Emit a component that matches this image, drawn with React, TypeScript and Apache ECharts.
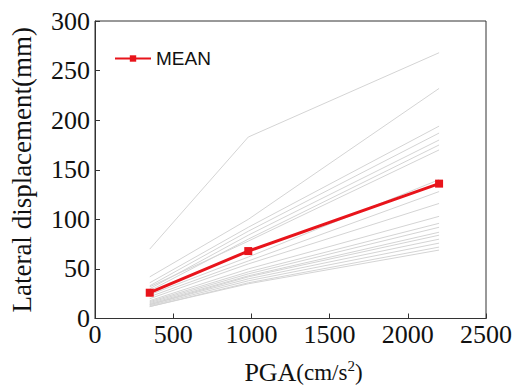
import React, { useEffect, useRef } from "react";
import * as echarts from "echarts";

const pga = [350, 980, 2200];
const meanValues = [26, 68, 136];
const records: number[][] = [
  [70, 183, 268],
  [42, 100, 232],
  [36, 92, 194],
  [33, 88, 187],
  [30, 84, 180],
  [28, 80, 175],
  [32, 78, 170],
  [24, 62, 140],
  [22, 58, 128],
  [20, 55, 116],
  [18, 50, 103],
  [17, 47, 96],
  [16, 45, 92],
  [15, 43, 87],
  [14, 42, 84],
  [14, 40, 80],
  [13, 38, 76],
  [12, 36, 72],
  [12, 35, 69],
];
const xTicks = [0, 500, 1000, 1500, 2000, 2500];
const yTicks = [0, 50, 100, 150, 200, 250, 300];

export default function App() {
  const ref = useRef<HTMLDivElement>(null);
  useEffect(() => {
    const chart = echarts.init(ref.current!, undefined, { renderer: "svg" });
    const serif = "'Liberation Serif', 'Times New Roman', serif";
    const gray = records.map((r, i) => ({
      name: "r" + i,
      type: "line",
      data: pga.map((x, j) => [x, r[j]]),
      showSymbol: false,
      silent: true,
      lineStyle: { color: "#d4d4d4", width: 1 },
      z: 1,
    }));
    chart.setOption({
      animation: false,
      grid: {
        left: 89,
        right: 36,
        top: 21,
        bottom: 58,
        show: true,
        borderColor: "#333",
        borderWidth: 1,
      },
      legend: {
        data: ["MEAN"],
        left: 109,
        top: 44,
        itemWidth: 36,
        itemHeight: 8,
        itemGap: 8,
        textStyle: { fontFamily: "'Liberation Sans', Arial, sans-serif", fontSize: 19, color: "#111" },
      },
      xAxis: {
        type: "value",
        min: xTicks[0],
        max: xTicks[xTicks.length - 1],
        interval: 500,
        axisLine: { show: true, lineStyle: { color: "#333" } },
        axisTick: { show: true, inside: true, length: 5, lineStyle: { color: "#333" } },
        splitLine: { show: false },
        axisLabel: { fontFamily: serif, fontSize: 26, color: "#111", margin: 3, formatter: (v: number) => String(v) },
        name: "{a|PGA}{b|(cm/s}{s|2}{b|)}",
        nameLocation: "middle",
        nameGap: 40,
        nameTextStyle: {
          padding: [0, 0, 0, 26],
          rich: {
            a: { fontFamily: serif, fontSize: 26, color: "#111" },
            b: { fontFamily: serif, fontSize: 23, color: "#111" },
            s: { fontFamily: serif, fontSize: 15, color: "#111", padding: [0, 0, 12, 0] },
          },
        },
      },
      yAxis: {
        type: "value",
        min: yTicks[0],
        max: yTicks[yTicks.length - 1],
        interval: 50,
        axisLine: { show: true, lineStyle: { color: "#333" } },
        axisTick: { show: true, inside: true, length: 5, lineStyle: { color: "#333" } },
        splitLine: { show: false },
        axisLabel: { fontFamily: serif, fontSize: 26, color: "#111", margin: 5 },
        name: "Lateral displacement(mm)",
        nameLocation: "middle",
        nameGap: 60,
        nameTextStyle: { fontFamily: serif, fontSize: 27, color: "#111" },
      },
      series: [
        ...gray,
        {
          name: "MEAN",
          type: "line",
          data: pga.map((x, j) => [x, meanValues[j]]),
          symbol: "rect",
          symbolSize: 8,
          itemStyle: { color: "#e8141b" },
          lineStyle: { color: "#e8141b", width: 3 },
          z: 5,
        },
      ],
    });
    return () => chart.dispose();
  }, []);
  return <div ref={ref} style={{ width: 522, height: 390, position: "absolute", left: 0, top: 0 }} />;
}
